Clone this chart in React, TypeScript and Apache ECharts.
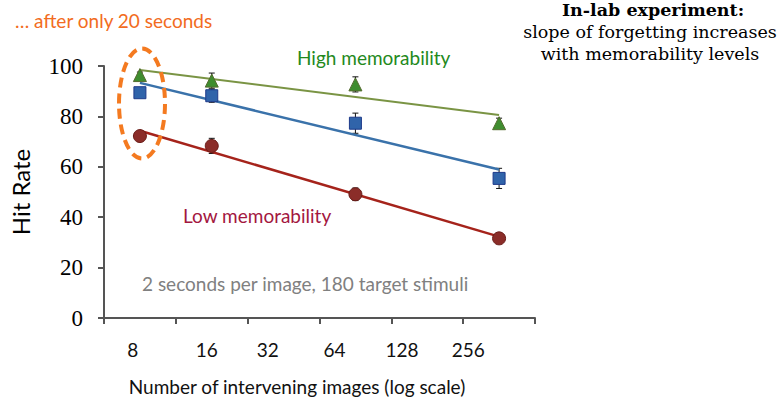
import React, { useEffect, useRef } from "react";
import * as echarts from "echarts";

// ---- data ----
const delays = [8, 16, 64, 256];
const highMem = [96.4, 94.2, 92.7, 77.3];
const highErr = [1.2, 3.0, 3.0, 2.0];
const midMem = [89.4, 88.2, 77.3, 55.4];
const midErr = [1.2, 2.6, 4.0, 4.0];
const lowMem = [72.2, 68.3, 49.1, 31.6];
const lowErr = [1.0, 3.0, 2.5, 1.5];

const fitDelays = [8, 256];
const highFit = [98.4, 80.6];
const midFit = [93.3, 58.9];
const lowFit = [74.3, 32.3];

const xTickLabels = ["8", "16", "32", "64", "128", "256"];
const yTicks = { min: 0, max: 100, step: 20 };

// ---- layout (not data) ----
const xAxisRange = [2.5, 8.5]; // log2 space
const xTickPositions = [2.5, 3.5, 4.5, 5.5, 6.5, 7.5, 8.5];
const xLabelPositions = [2.9, 3.93, 4.78, 5.71, 6.65, 7.57];

const toPts = (xs: number[], ys: number[]) => xs.map((x, i) => [Math.log2(x), ys[i]]);
const toErr = (xs: number[], ys: number[], es: number[]) =>
  xs.map((x, i) => [Math.log2(x), ys[i] - es[i], ys[i] + es[i]]);

const errorSeries = (name: string, data: number[][]) => ({
  name,
  type: "custom",
  z: 1,
  renderItem: (_p: any, api: any) => {
    const x = api.value(0);
    const lo = api.coord([x, api.value(1)]);
    const hi = api.coord([x, api.value(2)]);
    const w = 3;
    const st = { stroke: "#111", lineWidth: 1 };
    return {
      type: "group",
      children: [
        { type: "line", shape: { x1: hi[0], y1: hi[1], x2: lo[0], y2: lo[1] }, style: st },
        { type: "line", shape: { x1: hi[0] - w, y1: hi[1], x2: hi[0] + w, y2: hi[1] }, style: st },
        { type: "line", shape: { x1: lo[0] - w, y1: lo[1], x2: lo[0] + w, y2: lo[1] }, style: st },
      ],
    };
  },
  data,
});

const sans = "Lato, 'Noto Sans', sans-serif";
const serif = "'DejaVu Serif', 'Liberation Serif', serif";

export default function App() {
  const ref = useRef<HTMLDivElement>(null);
  useEffect(() => {
    if (!ref.current) return;
    const chart = echarts.init(ref.current, null, { renderer: "svg" });
    const txt = (text: string, x: number, y: number, fill: string, font: string, align = "left") => ({
      type: "text",
      x,
      y,
      style: { text, fill, font, textAlign: align, textVerticalAlign: "middle", align, verticalAlign: "middle" },
    });
    chart.setOption({
      animation: false,
      backgroundColor: "#ffffff",
      grid: { left: 104, top: 66, width: 431, height: 252, containLabel: false, outerBoundsMode: "none" },
      xAxis: {
        type: "value",
        min: xAxisRange[0],
        max: xAxisRange[1],
        name: "Number of intervening images (log scale)",
        nameLocation: "middle",
        nameGap: 59,
        nameTextStyle: { fontFamily: "Lato", fontSize: 19, color: "#111", padding: [0, 45, 0, 0] },
        axisLine: { show: true, onZero: false, lineStyle: { color: "#555", width: 2 } },
        axisTick: { show: true, customValues: xTickPositions, length: 6, inside: false, lineStyle: { color: "#555", width: 2 } },
        axisLabel: {
          customValues: xLabelPositions,
          formatter: (v: number) => {
            let best = 0;
            xLabelPositions.forEach((p, i) => {
              if (Math.abs(p - v) < Math.abs(xLabelPositions[best] - v)) best = i;
            });
            return xTickLabels[best];
          },
          margin: 22,
          fontFamily: "Lato",
          fontSize: 19,
          color: "#111",
        },
        splitLine: { show: false },
      },
      yAxis: {
        type: "value",
        min: yTicks.min,
        max: yTicks.max,
        interval: yTicks.step,
        name: "Hit Rate",
        nameLocation: "middle",
        nameRotate: 90,
        nameGap: 72,
        nameTextStyle: { fontFamily: "Lato", fontSize: 24, color: "#000" },
        axisLine: { show: true, lineStyle: { color: "#555", width: 2 } },
        axisTick: { show: true, length: 6, lineStyle: { color: "#555", width: 2 } },
        axisLabel: { margin: 21, fontFamily: "'Liberation Serif', 'DejaVu Serif', serif", fontSize: 23, color: "#000" },
        splitLine: { show: false },
      },
      series: [
        errorSeries("High err", toErr(delays, highMem, highErr)),
        errorSeries("Mid err", toErr(delays, midMem, midErr)),
        errorSeries("Low err", toErr(delays, lowMem, lowErr)),
        {
          name: "High fit", type: "line", z: 2, showSymbol: false, symbol: "none",
          data: toPts(fitDelays, highFit), lineStyle: { color: "#7a9444", width: 2 },
        },
        {
          name: "Mid fit", type: "line", z: 2, showSymbol: false, symbol: "none",
          data: toPts(fitDelays, midFit), lineStyle: { color: "#3a72aa", width: 2.5 },
        },
        {
          name: "Low fit", type: "line", z: 2, showSymbol: false, symbol: "none",
          data: toPts(fitDelays, lowFit), lineStyle: { color: "#a5231b", width: 2.5 },
        },
        {
          name: "High memorability", type: "scatter", z: 3, symbol: "triangle", symbolSize: 13,
          data: toPts(delays, highMem),
          itemStyle: { color: "#3f8d2f", borderColor: "#556b2f", borderWidth: 1, opacity: 1 },
        },
        {
          name: "Medium", type: "scatter", z: 3, symbol: "rect", symbolSize: 12,
          data: toPts(delays, midMem),
          itemStyle: { color: "#3064aa", borderColor: "#1e3a8a", borderWidth: 1, opacity: 1 },
        },
        {
          name: "Low memorability", type: "scatter", z: 3, symbol: "circle", symbolSize: 13,
          data: toPts(delays, lowMem),
          itemStyle: { color: "#8b2d29", borderColor: "#6a1c18", borderWidth: 1, opacity: 1 },
        },
      ],
      graphic: [
        txt("… after only 20 seconds", 15, 20, "#f26c21", `19px ${sans}`),
        txt("High memorability", 297, 57, "#23891c", `19px ${sans}`),
        txt("Low memorability", 183, 215, "#a3173f", `19px ${sans}`),
        txt("2 seconds per image, 180 target stimuli", 142, 283, "#808080", `19px ${sans}`),
        txt("In-lab experiment:", 653, 10, "#000", `bold 17.5px ${serif}`, "center"),
        txt("slope of forgetting increases", 650, 32, "#000", `17.5px ${serif}`, "center"),
        txt("with memorability levels", 650, 54, "#000", `17.5px ${serif}`, "center"),
        {
          type: "ellipse",
          shape: { cx: 142, cy: 103.5, rx: 23, ry: 55 },
          style: { fill: "none", stroke: "#f47a20", lineWidth: 4, lineDash: [10, 6] },
          z: 10,
        },
      ],
    });
    return () => chart.dispose();
  }, []);
  return <div ref={ref} style={{ position: "fixed", left: 0, top: 0, width: 782, height: 398 }} />;
}
